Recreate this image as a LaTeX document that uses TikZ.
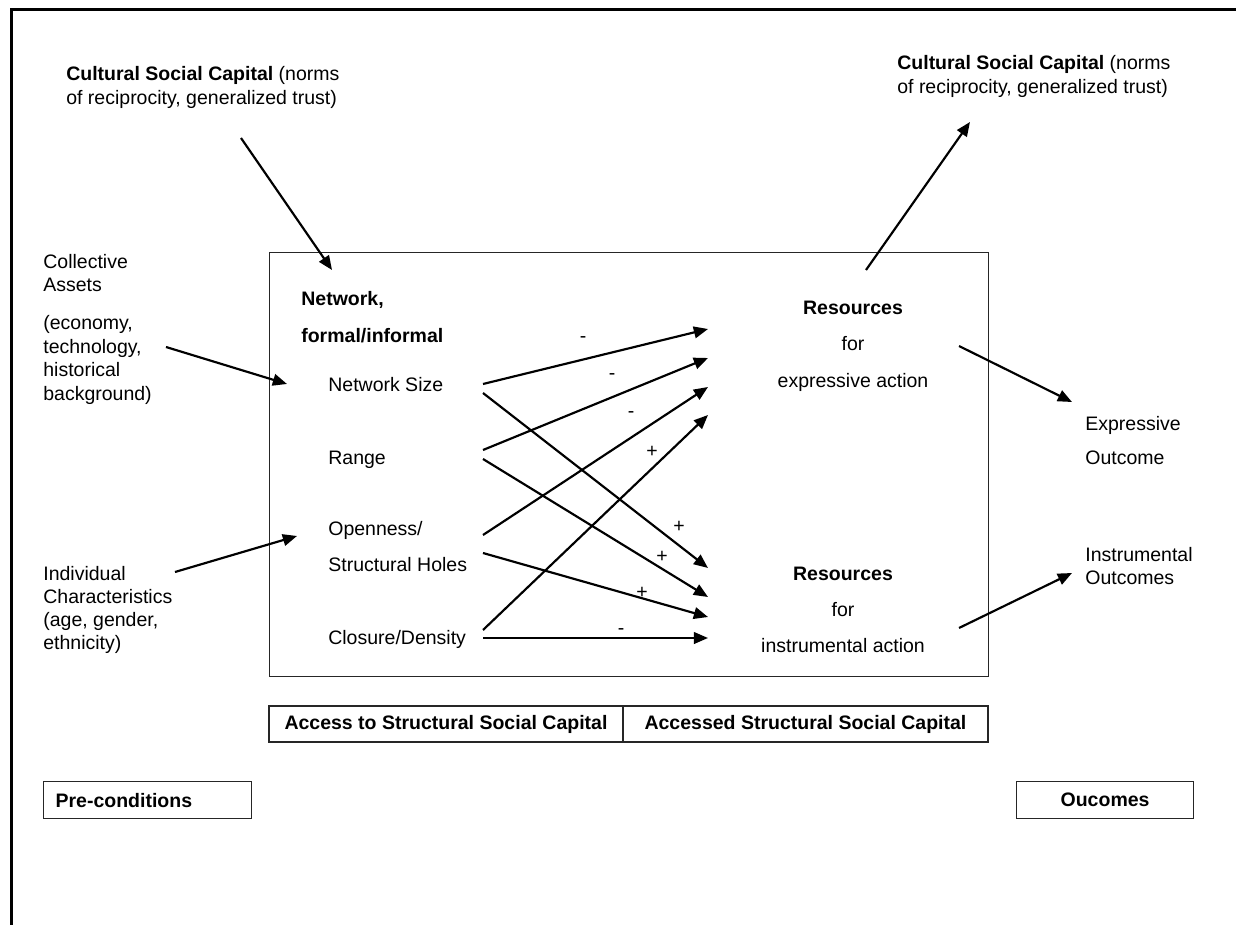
\documentclass[tikz,border=0pt]{standalone}
\usepackage{fontspec}
\setmainfont{Liberation Sans}
\usetikzlibrary{arrows.meta}
\begin{document}
\begin{tikzpicture}[x=0.6pt,y=-0.6pt,
  txt/.style={inner sep=0pt, anchor=base west, font=\fontsize{11.7}{14}\selectfont},
  ctxt/.style={txt, anchor=base},
  btxt/.style={txt, font=\fontsize{11.7}{14}\selectfont\bfseries},
  bctxt/.style={btxt, anchor=base},
  sign/.style={inner sep=0pt, anchor=center, font=\fontsize{11.7}{14}\selectfont},
  arr/.style={line width=1.3pt, -{Triangle[length=8.5pt,width=7pt]}},
  thinbox/.style={draw=black!85, line width=0.6pt, inner sep=0pt},
  labbox/.style={draw=black!85, line width=0.7pt, inner sep=0pt, font=\fontsize{11.7}{14}\selectfont\bfseries}]
\useasboundingbox (0,0) rectangle (1236,925);
% outer frame
\draw[line width=1.5pt] (11.5,925) -- (11.5,9.5) -- (1236,9.5);

% main box
\node[thinbox, anchor=north west, minimum width=431.4pt, minimum height=254.4pt] (main) at (269,252) {};

% top texts
\node[txt] (tl1) at (66,81) {\textbf{Cultural Social Capital} (norms};
\node[txt] (tl2) at (66,105) {of reciprocity, generalized trust)};
\node[txt] (tr1) at (897,70) {\textbf{Cultural Social Capital} (norms};
\node[txt] (tr2) at (897,94) {of reciprocity, generalized trust)};

% left texts
\node[txt] (ca1) at (43,269) {Collective};
\node[txt] (ca2) at (43,292) {Assets};
\node[txt] (ca3) at (43,330) {(economy,};
\node[txt] (ca4) at (43,354) {technology,};
\node[txt] (ca5) at (43,377) {historical};
\node[txt] (ca6) at (43,400) {background)};
\node[txt] (ic1) at (43,580) {Individual};
\node[txt] (ic2) at (43,603) {Characteristics};
\node[txt] (ic3) at (43,626) {(age, gender,};
\node[txt] (ic4) at (43,649) {ethnicity)};

% network side
\node[btxt] (net1) at (301,306) {Network,};
\node[btxt] (net2) at (301,343) {formal/informal};
\node[txt] (ns) at (328,391) {Network Size};
\node[txt] (rg) at (328,464) {Range};
\node[txt] (op1) at (328,535) {Openness/};
\node[txt] (op2) at (328,571) {Structural Holes};
\node[txt] (cd) at (328,644) {Closure/Density};

% resources
\node[bctxt] (re1) at (853,315) {Resources};
\node[ctxt] (re2) at (853,351) {for};
\node[ctxt] (re3) at (853,387) {expressive action};
\node[bctxt] (ri1) at (843,580) {Resources};
\node[ctxt] (ri2) at (843,616) {for};
\node[ctxt] (ri3) at (843,652) {instrumental action};

% outcomes
\node[txt] (eo1) at (1085,430) {Expressive};
\node[txt] (eo2) at (1085,464) {Outcome};
\node[txt] (io1) at (1085,561) {Instrumental};
\node[txt] (io2) at (1085,584) {Outcomes};

% bottom boxes
\node[labbox, minimum width=212.4pt, minimum height=21.6pt] (acc) at (446,724) {Access to Structural Social Capital};
\node[labbox, minimum width=219pt, minimum height=21.6pt] (accd) at (805.5,724) {Accessed Structural Social Capital};
\node[labbox, anchor=north west, minimum width=124.8pt, minimum height=22.2pt, text width=110.4pt, align=left] (pre) at (43,781) {Pre-conditions};
\node[labbox, anchor=north west, minimum width=106.2pt, minimum height=22.2pt] (out) at (1016,781) {Oucomes};

% coordinates
\coordinate (s1) at (483,384); \coordinate (e1) at (708,329);
\coordinate (s2) at (483,450); \coordinate (e2) at (708,358);
\coordinate (s3) at (483,535); \coordinate (e3) at (708,387);
\coordinate (s4) at (483,630); \coordinate (e4) at (708,415);
\coordinate (s5) at (483,393); \coordinate (e5) at (708,568);
\coordinate (s6) at (483,459); \coordinate (e6) at (708,597);
\coordinate (s7) at (483,553); \coordinate (e7) at (708,617);
\coordinate (s8) at (483,638); \coordinate (e8) at (708,638);

\coordinate (tla) at (241,138); \coordinate (tlb) at (332,270);
\coordinate (tra) at (866,270); \coordinate (trb) at (970,122);
\coordinate (caa) at (166,347); \coordinate (cab) at (287,384);
\coordinate (ica) at (175,572); \coordinate (icb) at (297,536);
\coordinate (eoa) at (959,346); \coordinate (eob) at (1072,402);
\coordinate (ioa) at (959,628); \coordinate (iob) at (1072,573);

% arrows
\draw[arr] (s1) -- (e1);
\draw[arr] (s2) -- (e2);
\draw[arr] (s3) -- (e3);
\draw[arr] (s4) -- (e4);
\draw[arr] (s5) -- (e5);
\draw[arr] (s6) -- (e6);
\draw[arr] (s7) -- (e7);
\draw[arr] (s8) -- (e8);
\draw[arr] (tla) -- (tlb);
\draw[arr] (tra) -- (trb);
\draw[arr] (caa) -- (cab);
\draw[arr] (ica) -- (icb);
\draw[arr] (eoa) -- (eob);
\draw[arr] (ioa) -- (iob);

% signs
\node[sign] (g1) at (583,340) {-};
\node[sign] (g2) at (612,377) {-};
\node[sign] (g3) at (631,415) {-};
\node[sign] (g4) at (652,452) {+};
\node[sign] (g5) at (679,527) {+};
\node[sign] (g6) at (662,557) {+};
\node[sign] (g7) at (642,593) {+};
\node[sign] (g8) at (621,632) {-};
\end{tikzpicture}
\end{document}
